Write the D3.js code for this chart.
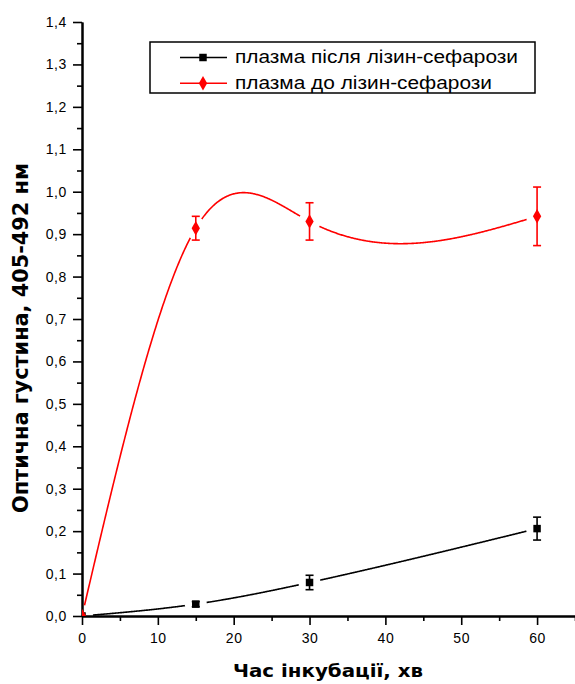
<!DOCTYPE html>
<html>
<head>
<meta charset="utf-8">
<script src="https://cdn.jsdelivr.net/npm/d3@7"></script>
<style>
  html, body { margin: 0; padding: 0; background: #fff; }
  svg { display: block; }
</style>
</head>
<body>
<script>
// ---- data ----
const timeValues = [0, 15, 30, 60];
const afterValues = [0, 0.028, 0.079, 0.206];   // плазма після лізин-сефарози
const afterErrors = [0, 0.006, 0.017, 0.027];
const beforeValues = [0, 0.914, 0.930, 0.942];  // плазма до лізин-сефарози
const beforeErrors = [0, 0.028, 0.044, 0.069];
const seriesNames = ["плазма після лізин-сефарози", "плазма до лізин-сефарози"];
const yTickValues = [0, 0.1, 0.2, 0.3, 0.4, 0.5, 0.6, 0.7, 0.8, 0.9, 1.0, 1.1, 1.2, 1.3, 1.4];
const xTickValues = [0, 10, 20, 30, 40, 50, 60];
const xTitle = "Час інкубації, хв";
const yTitle = "Оптична густина, 405-492 нм";

const W = 575, H = 684;
const svg = d3.select("body").append("svg").attr("width", W).attr("height", H);

const x = d3.scaleLinear().domain([0, 65]).range([82, 575]);
const y = d3.scaleLinear().domain([0, 1.4]).range([616, 22]);

const fmt = v => d3.format(".1f")(v).replace(".", ",");

// natural cubic spline in x
function naturalSpline(xs, ys) {
  const n = xs.length - 1;
  const h = [], d = [];
  for (let i = 0; i < n; i++) { h.push(xs[i+1]-xs[i]); d.push((ys[i+1]-ys[i])/h[i]); }
  const M = new Array(n+1).fill(0);
  // tridiagonal for M1..M(n-1)
  const m = n - 1;
  const a = [], b = [], c = [], r = [];
  for (let i = 1; i < n; i++) {
    a.push(h[i-1]); b.push(2*(h[i-1]+h[i])); c.push(h[i]); r.push(6*(d[i]-d[i-1]));
  }
  for (let i = 1; i < m; i++) {
    const w = a[i]/b[i-1];
    b[i] -= w*c[i-1]; r[i] -= w*r[i-1];
  }
  const sol = new Array(m);
  for (let i = m-1; i >= 0; i--) sol[i] = (r[i] - (i < m-1 ? c[i]*sol[i+1] : 0))/b[i];
  for (let i = 1; i < n; i++) M[i] = sol[i-1];
  return function(t) {
    let i = 0;
    while (i < n-1 && t > xs[i+1]) i++;
    const hi = h[i], A = (xs[i+1]-t)/hi, B = (t-xs[i])/hi;
    return A*ys[i] + B*ys[i+1] + ((A*A*A - A)*M[i] + (B*B*B - B)*M[i+1])*hi*hi/6;
  };
}

const defs = svg.append("defs");
defs.append("clipPath").attr("id", "plotClip").append("rect")
  .attr("x", x(0)).attr("y", y(1.4)).attr("width", x(65)-x(0)).attr("height", y(0)-y(1.4));

// ---- axes ----
const yMinor = d3.range(0.05, 1.4, 0.1);
const xMinor = d3.range(5, 66, 10);

function styleAxis(g) {
  g.select(".domain").attr("stroke", "#000").attr("stroke-width", 2);
  g.selectAll(".tick line").attr("stroke", "#000").attr("stroke-width", 1.6);
  g.selectAll(".tick text").attr("fill", "#000")
    .style("font-family", "'Liberation Sans', Arial, sans-serif").style("font-size", "14px")
    .style("letter-spacing", "0.6px");
}

svg.append("g").attr("transform", `translate(${x(0)},0)`)
  .call(d3.axisLeft(y).tickValues(yMinor).tickSize(5).tickSizeOuter(0).tickFormat(""))
  .call(styleAxis);
svg.append("g").attr("transform", `translate(${x(0)},0)`)
  .call(d3.axisLeft(y).tickValues(yTickValues).tickSize(9).tickSizeOuter(0).tickPadding(6).tickFormat(fmt))
  .call(styleAxis);

svg.append("g").attr("transform", `translate(0,${y(0)})`)
  .call(d3.axisBottom(x).tickValues(xMinor).tickSize(5).tickSizeOuter(0).tickFormat(""))
  .call(styleAxis);
svg.append("g").attr("transform", `translate(0,${y(0)})`)
  .call(d3.axisBottom(x).tickValues(xTickValues).tickSize(9).tickSizeOuter(0).tickPadding(8).tickFormat(d3.format("d")))
  .call(styleAxis);

// ---- titles ----
svg.append("text")
  .attr("x", 328).attr("y", 677)
  .attr("text-anchor", "middle")
  .attr("textLength", 190).attr("lengthAdjust", "spacingAndGlyphs")
  .style("font-family", "'DejaVu Sans', sans-serif").style("font-weight", "bold").style("font-size", "17px")
  .text(xTitle);

svg.append("text")
  .attr("transform", "translate(28,338) rotate(-90)")
  .attr("text-anchor", "middle")
  .attr("textLength", 350).attr("lengthAdjust", "spacingAndGlyphs")
  .style("font-family", "'DejaVu Sans', sans-serif").style("font-weight", "bold").style("font-size", "21px")
  .text(yTitle);

// ---- series ----
const series = [
  { name: seriesNames[0], values: afterValues, errors: afterErrors, color: "#000", marker: "square" },
  { name: seriesNames[1], values: beforeValues, errors: beforeErrors, color: "#ff0000", marker: "diamond" }
];

const plot = svg.append("g").attr("clip-path", "url(#plotClip)");
const lineGen = d3.line().x(d => x(d[0])).y(d => y(d[1]));
const squareSym = d3.symbol().type(d3.symbolSquare).size(56);
const diamondSym = d3.symbol().type(d3.symbolDiamond).size(60);

series.forEach((s, si) => {
  const f = naturalSpline(timeValues, s.values);
  const pts = d3.range(0, 600 + 1).map(i => { const t = i * 0.1; return [t, f(t)]; });
  const mask = defs.append("mask").attr("id", "gap" + si).attr("maskUnits", "userSpaceOnUse");
  mask.append("rect").attr("x", 0).attr("y", 0).attr("width", W).attr("height", H).attr("fill", "#fff");
  mask.selectAll("circle").data(timeValues).join("circle")
    .attr("cx", d => x(d)).attr("cy", (d, i) => y(s.values[i])).attr("r", 11).attr("fill", "#000");

  plot.append("path").datum(pts)
    .attr("d", lineGen).attr("fill", "none").attr("stroke", s.color).attr("stroke-width", 1.6)
    .attr("mask", `url(#gap${si})`);

  const eg = plot.append("g").attr("stroke", s.color).attr("stroke-width", 1.6);
  timeValues.forEach((t, i) => {
    const e = s.errors[i];
    if (e <= 0) return;
    const cx = x(t), y1 = y(s.values[i] + e), y2 = y(s.values[i] - e);
    eg.append("line").attr("x1", cx).attr("x2", cx).attr("y1", y1).attr("y2", y2);
    eg.append("line").attr("x1", cx - 4).attr("x2", cx + 4).attr("y1", y1).attr("y2", y1);
    eg.append("line").attr("x1", cx - 4).attr("x2", cx + 4).attr("y1", y2).attr("y2", y2);
  });

  plot.append("g").selectAll("path").data(timeValues).join("path")
    .attr("transform", (t, i) => `translate(${x(t)},${y(s.values[i])})`)
    .attr("d", s.marker === "square" ? squareSym : diamondSym)
    .attr("fill", s.color);
});

// ---- legend ----
const lg = svg.append("g");
lg.append("rect").attr("x", 150).attr("y", 42).attr("width", 385).attr("height", 51)
  .attr("fill", "#fff").attr("stroke", "#000").attr("stroke-width", 1.5);
const legendWidths = [283, 257];
series.forEach((s, i) => {
  const cy = 57.5 + i * 25.8;
  lg.append("line").attr("x1", 180).attr("x2", 227).attr("y1", cy).attr("y2", cy)
    .attr("stroke", s.color).attr("stroke-width", 1.6);
  lg.append("path").attr("transform", `translate(203,${cy})`)
    .attr("d", s.marker === "square" ? squareSym : diamondSym).attr("fill", s.color);
  lg.append("text")
    .attr("transform", `translate(235,${cy + 5.5}) scale(1,1.35)`)
    .attr("textLength", legendWidths[i]).attr("lengthAdjust", "spacingAndGlyphs")
    .style("font-family", "'Liberation Sans', Arial, sans-serif").style("font-size", "14px")
    .text(s.name);
});
</script>
</body>
</html>
